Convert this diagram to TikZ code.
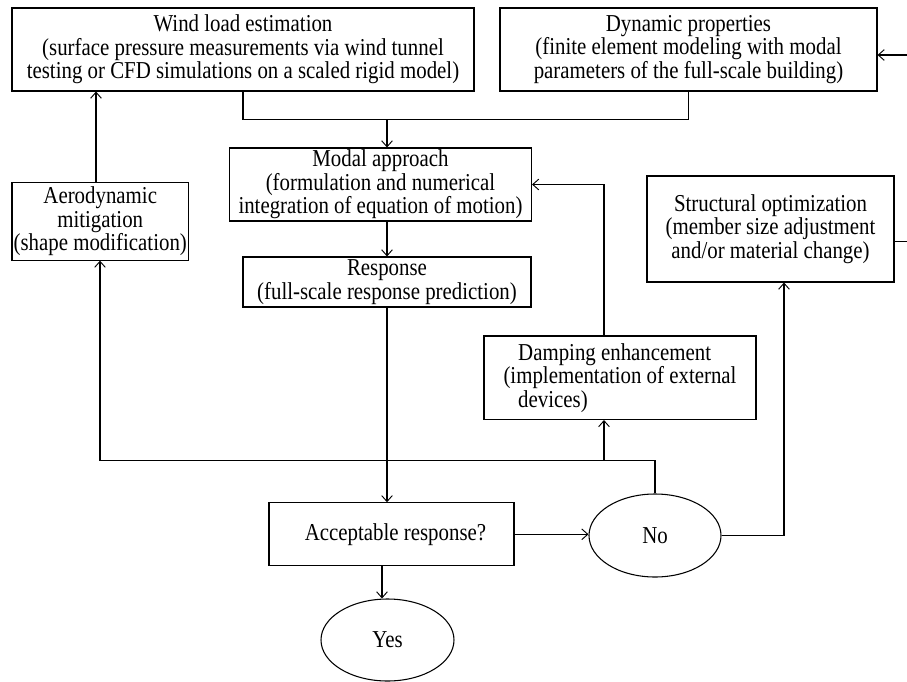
\documentclass[tikz,border=0pt]{standalone}
\usepackage{fontspec}
\setmainfont[FakeStretch=0.86]{Liberation Serif}
\usetikzlibrary{arrows.meta,shapes.geometric}
\begin{document}
\begin{tikzpicture}[x=0.75pt,y=-0.75pt,
  every node/.style={font=\fontsize{18.2}{17.6}\selectfont, inner sep=0pt},
  box/.style={draw, line width=0.8pt, rectangle, align=center},
  oval/.style={draw, line width=0.8pt, ellipse, align=center},
  conn/.style={line width=0.8pt},
  arr/.style={conn, -{Straight Barb[length=4.5pt,width=8pt,line width=0.7pt]}}]
\useasboundingbox (0,0) rectangle (907,682);
\clip (0,0) rectangle (907,682);
\node[box, minimum width=346.5pt, minimum height=62.25pt] (wind) at (243,49.5)
  {Wind load estimation\\(surface pressure measurements via wind tunnel\\testing or CFD simulations on a scaled rigid model)};
\node[box, minimum width=282.75pt, minimum height=62.25pt] (dyn) at (688.5,49.5)
  {Dynamic properties\\(finite element modeling with modal\\parameters of the full-scale building)};
\node[box, minimum width=226.5pt, minimum height=54.75pt] (modal) at (380.5,184.5)
  {Modal approach\\(formulation and numerical\\integration of equation of motion)};
\node[box, minimum width=216pt, minimum height=37.5pt] (resp) at (387,282)
  {Response\\(full-scale response prediction)};
\node[box, minimum width=132.4pt, minimum height=58.1pt] (aero) at (100.25,221.4)
  {Aerodynamic\\mitigation\\(shape modification)};
\node[box, minimum width=185.25pt, minimum height=79.5pt] (struct) at (770.5,229)
  {Structural optimization\\(member size adjustment\\and/or material change)};
\node[box, align=left, minimum width=204pt, minimum height=62.6pt] (damp) at (620,377.75)
  {\hspace*{11pt}Damping enhancement\\(implementation of external\\\hspace*{11pt}devices)};
\node[box, minimum width=183.75pt, minimum height=47.25pt] (accept) at (391.5,534.3)
  {\hspace*{6pt}Acceptable response?};
\node[oval, minimum width=99pt, minimum height=62.25pt] (no) at (655,535.5) {No};
\node[oval, minimum width=99.75pt, minimum height=61.5pt] (yes) at (387.5,640) {Yes};
\coordinate (jm) at (387,119.5);
\coordinate (ax) at (96,0);
\coordinate (yx) at (382,0);
\coordinate (sx) at (784,0);
\coordinate (h) at (100,460.7);
\coordinate (dx) at (604,460.7);
\coordinate (r1) at (915,241.7);
\coordinate (r2) at (915,55);
\draw[conn] (wind.south) |- (jm) -| (dyn.south);
\draw[arr] (jm) -- (jm |- modal.north);
\draw[arr] (aero.north -| ax) -- (ax |- wind.south);
\draw[arr] (jm |- modal.south) -- (jm |- resp.north);
\draw[arr] (jm |- resp.south) -- (jm |- accept.north);
\draw[arr] (yx |- accept.south) -- (yx |- yes.north);
\draw[arr] (accept.east) -- (accept.east -| no.west);
\draw[arr] (no.east) -| (sx |- struct.south);
\draw[arr] (struct.east |- r1) -- (r1) -- (r2) -- (r2 -| dyn.east);
\draw[arr] (no.north) |- (h) -- (h |- aero.south);
\draw[arr] (dx) -- (dx |- damp.south);
\draw[arr] (damp.north -| dx) |- (modal.east);
\end{tikzpicture}
\end{document}
